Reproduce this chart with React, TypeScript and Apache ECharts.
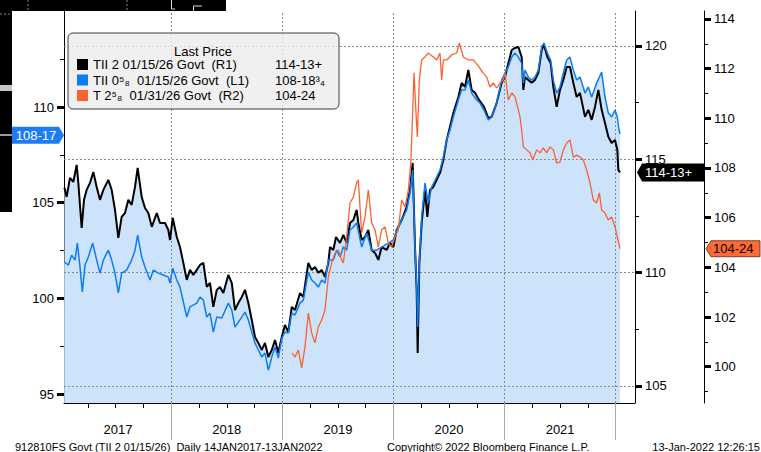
import React, { useEffect, useRef } from "react";
import * as echarts from "echarts";

// ---------- axis extents (fractional years / prices) ----------
const X_MIN = 2017.035;
const X_MAX = 2022.174;
const L1_MIN = 94.53, L1_MAX = 115.02;
const R1_MIN = 104.25, R1_MAX = 121.54;
const R2_MIN = 98.54, R2_MAX = 114.32;

// ---------- ticks & labels ----------
const yearBoundaries = [2018, 2019, 2020, 2021, 2022];
const yearLabelPositions = [2017.52, 2018.5, 2019.5, 2020.5, 2021.5];
const l1Ticks = [95, 100, 105, 110];
const l1Minor = [97.5, 102.5, 107.5, 112.5];
const r1Ticks = [105, 110, 115, 120];
const r1Minor = [107.5, 112.5, 117.5];
const r2Ticks = [100, 102, 104, 106, 108, 110, 112, 114];
const r2Minor = [99, 101, 103, 105, 107, 109, 111, 113];

// ---------- series names and last prices ----------
const seriesNames = [
  "TII 2 01/15/26 Govt  (R1)",
  "TII 0\u2075\u2088  01/15/26 Govt  (L1)",
  "T 2\u2075\u2088  01/31/26 Govt  (R2)",
];
const lastPrices = ["114-13+", "108-18\u00B3\u2084", "104-24"];
const tagTexts = ["114-13+", "108-17", "104-24"];
const tagValues = [114.42, 108.53, 104.75];

// ---------- data: [fractional year, price] ----------
const tii2Data = [
  [2017.039,113.74],[2017.059,113.34],[2017.089,114.18],[2017.119,114.0],[2017.149,114.75],[2017.164,113.96],[2017.194,111.97],[2017.215,113.21],[2017.239,113.65],[2017.269,113.96],[2017.299,114.44],[2017.329,113.78],[2017.359,113.21],[2017.389,113.65],[2017.434,114.09],[2017.464,113.65],[2017.494,112.77],[2017.524,111.53],[2017.554,112.46],[2017.584,112.63],[2017.614,113.21],[2017.644,112.99],[2017.674,113.78],[2017.698,114.62],[2017.734,113.34],[2017.764,112.85],[2017.794,112.63],[2017.825,112.02],[2017.87,112.63],[2017.899,112.19],[2017.944,112.19],[2017.974,111.88],[2017.989,111.44],
  [2018.014,112.41],[2018.05,111.57],[2018.079,111.13],[2018.109,110.43],[2018.14,109.68],[2018.169,110.12],[2018.199,109.9],[2018.23,110.12],[2018.259,110.34],[2018.289,110.43],[2018.32,109.37],[2018.349,109.55],[2018.379,108.49],[2018.41,109.24],[2018.439,109.37],[2018.469,109.1],[2018.514,109.9],[2018.545,109.55],[2018.574,108.35],[2018.604,108.66],[2018.635,108.93],[2018.664,109.24],[2018.694,108.66],[2018.725,107.91],[2018.754,107.16],[2018.784,106.9],[2018.815,106.59],[2018.844,106.9],[2018.874,106.28],[2018.905,106.59],[2018.934,107.03],[2018.964,106.46],[2018.995,107.16],
  [2019.024,107.69],[2019.054,107.38],[2019.085,108.49],[2019.114,108.35],[2019.159,109.1],[2019.189,108.93],[2019.234,110.43],[2019.264,110.12],[2019.294,110.25],[2019.324,109.99],[2019.354,110.12],[2019.384,109.81],[2019.414,110.43],[2019.429,111.13],[2019.459,111.0],[2019.483,111.57],[2019.519,111.31],[2019.549,111.66],[2019.579,111.31],[2019.609,112.19],[2019.639,112.32],[2019.669,112.77],[2019.684,112.19],[2019.714,111.44],[2019.744,111.57],[2019.774,111.88],[2019.804,111.0],[2019.834,110.87],[2019.864,110.56],[2019.894,111.13],[2019.939,111.0],[2019.969,111.31],[2019.999,111.13],
  [2020.029,111.88],[2020.074,112.32],[2020.119,112.9],[2020.149,113.65],[2020.173,114.84],[2020.194,111.13],[2020.209,109.24],[2020.218,106.46],[2020.233,110.43],[2020.254,112.19],[2020.284,113.65],[2020.305,112.46],[2020.329,113.65],[2020.359,113.78],[2020.389,114.09],[2020.419,114.4],[2020.449,114.97],[2020.479,115.85],[2020.509,116.43],[2020.539,117.04],[2020.584,117.75],[2020.614,118.37],[2020.644,118.19],[2020.674,118.94],[2020.704,118.06],[2020.734,117.93],[2020.77,117.62],[2020.815,117.31],[2020.854,116.82],[2020.884,116.87],[2020.929,117.49],[2020.974,118.37],
  [2021.004,118.63],[2021.034,119.25],[2021.065,119.82],[2021.094,119.91],[2021.124,119.96],[2021.154,119.51],[2021.169,118.06],[2021.184,118.63],[2021.214,118.5],[2021.244,118.37],[2021.274,118.5],[2021.304,118.81],[2021.334,119.82],[2021.355,120.04],[2021.385,119.51],[2021.415,119.25],[2021.439,118.19],[2021.469,117.31],[2021.499,118.06],[2021.529,118.5],[2021.559,119.07],[2021.589,119.07],[2021.619,118.37],[2021.649,117.75],[2021.679,117.93],[2021.724,116.87],[2021.754,117.18],[2021.784,116.74],[2021.814,117.31],[2021.844,118.06],[2021.874,117.18],[2021.904,116.6],[2021.934,115.99],[2021.964,115.72],[2021.994,115.85],[2022.015,115.41],[2022.024,114.53],[2022.039,114.42],
];

const tii058Data = [
  [2017.039,101.9],[2017.074,101.74],[2017.104,102.26],[2017.134,102.0],[2017.155,102.89],[2017.179,101.64],[2017.2,100.33],[2017.224,101.74],[2017.254,102.16],[2017.293,102.89],[2017.329,102.0],[2017.359,101.32],[2017.389,102.0],[2017.434,102.52],[2017.464,102.0],[2017.494,101.32],[2017.524,100.28],[2017.554,101.32],[2017.599,101.48],[2017.644,102.0],[2017.674,102.52],[2017.698,103.31],[2017.734,102.16],[2017.764,101.64],[2017.809,100.96],[2017.839,101.48],[2017.884,101.32],[2017.929,101.22],[2017.974,101.11],[2017.989,100.8],
  [2018.014,101.58],[2018.05,100.96],[2018.079,100.59],[2018.109,99.81],[2018.14,99.02],[2018.169,99.55],[2018.23,99.75],[2018.259,100.07],[2018.289,99.91],[2018.32,99.02],[2018.349,99.23],[2018.379,98.24],[2018.41,99.02],[2018.455,98.97],[2018.514,99.75],[2018.545,99.39],[2018.574,98.5],[2018.635,99.02],[2018.664,99.28],[2018.694,98.87],[2018.725,98.24],[2018.754,97.66],[2018.784,97.3],[2018.815,96.93],[2018.844,97.14],[2018.874,96.25],[2018.905,96.93],[2018.934,97.45],[2018.964,96.88],[2018.995,97.92],
  [2019.024,98.24],[2019.054,98.19],[2019.085,99.23],[2019.114,99.13],[2019.159,99.75],[2019.189,99.91],[2019.234,101.37],[2019.264,100.96],[2019.294,100.8],[2019.324,100.59],[2019.354,100.96],[2019.384,100.8],[2019.414,102.0],[2019.459,102.0],[2019.489,102.52],[2019.519,102.16],[2019.549,102.68],[2019.579,102.52],[2019.609,103.57],[2019.639,103.73],[2019.669,103.94],[2019.714,102.68],[2019.759,103.41],[2019.804,102.52],[2019.849,102.52],[2019.894,102.68],[2019.954,102.89],[2019.999,103.05],
  [2020.029,103.57],[2020.074,104.09],[2020.119,104.62],[2020.149,105.5],[2020.173,106.71],[2020.194,102.68],[2020.209,100.59],[2020.218,98.5],[2020.233,101.85],[2020.254,104.25],[2020.284,106.03],[2020.314,104.98],[2020.344,105.82],[2020.389,106.34],[2020.419,106.71],[2020.449,107.39],[2020.479,108.28],[2020.509,108.8],[2020.539,109.48],[2020.584,110.37],[2020.614,110.89],[2020.644,110.89],[2020.674,111.41],[2020.704,110.73],[2020.749,110.37],[2020.779,110.21],[2020.815,109.84],[2020.854,109.32],[2020.884,109.48],[2020.929,110.21],[2020.974,111.41],
  [2021.004,111.78],[2021.034,112.09],[2021.065,112.61],[2021.094,112.82],[2021.124,112.61],[2021.154,112.3],[2021.169,111.25],[2021.184,111.93],[2021.214,111.57],[2021.244,111.41],[2021.274,111.57],[2021.304,111.93],[2021.334,113.14],[2021.355,113.35],[2021.385,112.82],[2021.415,112.46],[2021.439,111.41],[2021.469,110.73],[2021.499,111.05],[2021.529,111.78],[2021.559,112.46],[2021.589,112.61],[2021.619,111.93],[2021.649,111.41],[2021.679,111.57],[2021.724,110.73],[2021.754,111.05],[2021.784,110.52],[2021.829,111.25],[2021.874,111.83],[2021.904,110.52],[2021.934,109.69],[2021.964,109.48],[2021.994,109.84],[2022.015,109.48],[2022.03,108.8],[2022.039,108.59],
];

const t258Data = [
  [2019.088,100.55],[2019.114,100.39],[2019.144,100.67],[2019.174,99.95],[2019.204,100.8],[2019.234,102.16],[2019.264,101.36],[2019.294,100.96],[2019.324,101.6],[2019.354,101.88],[2019.384,102.29],[2019.414,103.61],[2019.444,104.18],[2019.474,104.58],[2019.504,104.7],[2019.534,104.3],[2019.549,104.18],[2019.579,105.22],[2019.609,106.59],[2019.639,106.83],[2019.669,107.4],[2019.684,107.52],[2019.714,105.39],[2019.744,106.03],[2019.774,107.12],[2019.804,105.79],[2019.834,105.51],[2019.864,104.82],[2019.894,105.51],[2019.924,105.63],[2019.954,104.98],[2019.984,104.82],
  [2020.014,105.22],[2020.044,105.51],[2020.074,106.71],[2020.104,106.43],[2020.134,107.12],[2020.156,108.2],[2020.173,110.22],[2020.185,111.83],[2020.2,110.46],[2020.215,109.25],[2020.233,111.54],[2020.254,112.35],[2020.284,112.47],[2020.314,112.63],[2020.359,112.47],[2020.389,112.35],[2020.419,112.63],[2020.434,111.54],[2020.449,112.35],[2020.479,112.35],[2020.524,112.55],[2020.569,112.63],[2020.593,113.03],[2020.629,112.47],[2020.674,112.35],[2020.719,112.35],[2020.77,112.07],[2020.806,111.83],[2020.839,111.67],[2020.869,111.26],[2020.899,111.42],[2020.929,111.22],[2020.959,111.42],[2020.989,111.54],
  [2021.004,111.83],[2021.034,110.74],[2021.065,111.02],[2021.094,110.86],[2021.124,110.34],[2021.139,110.05],[2021.154,109.53],[2021.169,108.85],[2021.199,108.73],[2021.229,108.61],[2021.254,108.32],[2021.289,108.73],[2021.319,108.61],[2021.349,108.81],[2021.379,108.61],[2021.409,108.85],[2021.439,108.73],[2021.469,108.2],[2021.499,108.24],[2021.529,108.73],[2021.559,109.01],[2021.589,109.13],[2021.619,108.44],[2021.649,108.52],[2021.679,108.44],[2021.709,108.32],[2021.739,107.92],[2021.769,107.4],[2021.799,106.71],[2021.829,106.59],[2021.853,107.0],[2021.874,106.31],[2021.904,106.19],[2021.934,105.91],[2021.964,106.03],[2021.994,105.63],[2022.015,105.22],[2022.039,104.75],
];

// ---------- styles ----------
const FONT = "'Liberation Sans', Arial, sans-serif";
const FILL = "#cce3fb";
const BLACK = "#000000";
const BLUE = "#0b7cf3";
const ORANGE = "#fa6232";
const gridLineStyle = { color: "#8a8a8a", width: 1, type: [2, 2] };

const quarterTicks: number[] = [];
for (let y = 2017; y <= 2021; y++) {
  [0.25, 0.5, 0.75].forEach((q) => {
    if (y + q > X_MIN) quarterTicks.push(y + q);
  });
}

const labelStyle = { color: "#000", fontSize: 13, fontFamily: FONT };

function yAxisMajor(min: number, max: number, position: string, offset: number, ticks: number[]) {
  return {
    type: "value", min, max, position, offset,
    axisLine: { show: true, lineStyle: { color: "#000", width: 1 } },
    axisTick: { show: true, customValues: ticks, length: 7, lineStyle: { color: "#000", width: 3 } },
    axisLabel: { show: true, customValues: ticks, margin: 10, ...labelStyle },
    splitLine: { show: false },
  };
}
function yAxisMinor(min: number, max: number, position: string, offset: number, ticks: number[]) {
  return {
    type: "value", min, max, position, offset,
    axisLine: { show: false },
    axisTick: { show: true, customValues: ticks, length: 4, lineStyle: { color: "#000", width: 1 } },
    axisLabel: { show: false },
    splitLine: { show: false },
  };
}

const lastMap: Record<string, string> = {};
seriesNames.forEach((n, i) => (lastMap[n] = lastPrices[i]));

const option: any = {
  animation: false,
  backgroundColor: "#ffffff",
  grid: { left: 64, right: 126, top: 11, bottom: 49, containLabel: false },
  xAxis: [
    {
      type: "value", min: X_MIN, max: X_MAX, position: "bottom",
      axisLine: { show: true, lineStyle: { color: "#000", width: 1 } },
      axisTick: { show: true, customValues: yearBoundaries, length: 37, lineStyle: { color: "#a8a8a8", width: 1 } },
      axisLabel: { show: false },
      splitLine: { show: false },
    },
    {
      type: "value", min: X_MIN, max: X_MAX, position: "bottom",
      axisLine: { show: false },
      axisTick: { show: true, customValues: quarterTicks, length: 5, lineStyle: { color: "#000", width: 1 } },
      axisLabel: { show: false },
      splitLine: { show: false },
    },
    {
      type: "value", min: X_MIN, max: X_MAX, position: "bottom",
      axisLine: { show: false },
      axisTick: { show: false },
      axisLabel: {
        show: true, customValues: yearLabelPositions, margin: 20,
        formatter: (v: number) => String(Math.floor(v)), ...labelStyle,
      },
      splitLine: { show: false },
    },
  ],
  yAxis: [
    yAxisMajor(L1_MIN, L1_MAX, "left", 0, l1Ticks),
    yAxisMajor(R1_MIN, R1_MAX, "right", 0, r1Ticks),
    yAxisMajor(R2_MIN, R2_MAX, "right", 69, r2Ticks),
    yAxisMinor(L1_MIN, L1_MAX, "left", 0, l1Minor),
    yAxisMinor(R1_MIN, R1_MAX, "right", 0, r1Minor),
    yAxisMinor(R2_MIN, R2_MAX, "right", 69, r2Minor),
  ],
  legend: {
    orient: "vertical", left: 68, top: 33,
    padding: [25, 9, 7, 9],
    itemGap: 2.5, itemWidth: 11, itemHeight: 11,
    backgroundColor: "rgba(236,236,236,0.8)",
    borderColor: "#3c3c3c", borderWidth: 1, borderRadius: 5,
    selectedMode: false,
    data: seriesNames.map((n) => ({ name: n, icon: "rect" })),
    formatter: (name: string) => `{n|${name}}{v|${lastMap[name]}}`,
    textStyle: {
      rich: {
        n: { width: 182, fontSize: 13, lineHeight: 14, fontFamily: FONT, color: "#000" },
        v: { width: 55, fontSize: 13, lineHeight: 14, fontFamily: FONT, color: "#000" },
      },
    },
  },
  series: [
    {
      name: "fill-r1", type: "line", xAxisIndex: 0, yAxisIndex: 1, data: tii2Data,
      symbol: "none", silent: true, z: 1,
      lineStyle: { width: 0, opacity: 0 },
      areaStyle: { color: FILL, opacity: 1, origin: "start" },
      markLine: {
        silent: true, symbol: ["none", "none"], z: 2,
        label: { show: false },
        lineStyle: gridLineStyle,
        emphasis: { disabled: true },
        data: [
          ...yearBoundaries.map((v) => ({ xAxis: v })),
          ...r1Ticks.map((v) => ({ yAxis: v })),
        ],
      },
    },
    {
      name: "fill-l1", type: "line", xAxisIndex: 0, yAxisIndex: 0, data: tii058Data,
      symbol: "none", silent: true, z: 1,
      lineStyle: { width: 0, opacity: 0 },
      areaStyle: { color: FILL, opacity: 1, origin: "start" },
    },
    {
      name: seriesNames[0], type: "line", xAxisIndex: 0, yAxisIndex: 1, data: tii2Data,
      symbol: "none", color: BLACK, z: 4,
      lineStyle: { width: 2, color: BLACK },
    },
    {
      name: seriesNames[1], type: "line", xAxisIndex: 0, yAxisIndex: 0, data: tii058Data,
      symbol: "none", color: BLUE, z: 5,
      lineStyle: { width: 1.5, color: BLUE },
    },
    {
      name: seriesNames[2], type: "line", xAxisIndex: 0, yAxisIndex: 2, data: t258Data,
      symbol: "none", color: ORANGE, z: 6,
      lineStyle: { width: 1.3, color: ORANGE },
    },
  ],
};

function tagText(text: string, x: number, y: number, color: string, align: string) {
  return {
    type: "text", z: 101,
    style: { text, x, y, fill: color, font: `13px ${FONT}`, align, verticalAlign: "middle" },
  };
}

export default function App() {
  const ref = useRef<HTMLDivElement>(null);
  useEffect(() => {
    const el = ref.current;
    if (!el) return;
    const chart = echarts.init(el, null, { renderer: "svg" });
    chart.setOption(option);

    const xL = chart.convertToPixel({ xAxisIndex: 0 }, X_MIN) as number;
    const xR = chart.convertToPixel({ xAxisIndex: 0 }, X_MAX) as number;
    const xR2 = xR + 69;
    const yBlack = chart.convertToPixel({ yAxisIndex: 1 }, tagValues[0]) as number;
    const yBlue = chart.convertToPixel({ yAxisIndex: 0 }, tagValues[1]) as number;
    const yOrange = chart.convertToPixel({ yAxisIndex: 2 }, tagValues[2]) as number;

    const graphic: any[] = [
      // dark screen fragment at the top-left corner
      { type: "rect", z: 100, shape: { x: 0, y: 0, width: 226, height: 11 }, style: { fill: "#000" } },
      { type: "rect", z: 100, shape: { x: 0, y: 0, width: 12, height: 212 }, style: { fill: "#000" } },
      { type: "rect", z: 101, shape: { x: 0, y: 85, width: 12, height: 6 }, style: { fill: "#c4c4c4" } },
      { type: "line", z: 101, shape: { x1: 0, y1: 135, x2: 12, y2: 135 }, style: { stroke: "#cfcfcf", lineWidth: 1.5 } },
      { type: "line", z: 101, shape: { x1: 0, y1: 14, x2: 12, y2: 14 }, style: { stroke: "#888", lineWidth: 1, lineDash: [2, 2] } },
      { type: "line", z: 101, shape: { x1: 28, y1: 0, x2: 28, y2: 10 }, style: { stroke: "#888", lineWidth: 1, lineDash: [2, 2] } },
      { type: "line", z: 101, shape: { x1: 127, y1: 0, x2: 127, y2: 10 }, style: { stroke: "#888", lineWidth: 1, lineDash: [2, 2] } },
      { type: "polyline", z: 101, shape: { points: [[171.5, 0], [171.5, 9], [175, 9]] }, style: { stroke: "#ddd", lineWidth: 1, fill: "none" } },
      { type: "polyline", z: 101, shape: { points: [[193.5, 11], [193.5, 6], [202, 6]] }, style: { stroke: "#ddd", lineWidth: 1, fill: "none" } },
      // legend title
      { type: "text", z: 101, style: { text: "Last Price", x: 203, y: 51, fill: "#000", font: `13px ${FONT}`, align: "center", verticalAlign: "middle" } },
      // left (L1) tag
      {
        type: "polygon", z: 100,
        shape: { points: [[12, yBlue - 8.5], [xL - 5, yBlue - 8.5], [xL, yBlue], [xL - 5, yBlue + 8.5], [12, yBlue + 8.5]] },
        style: { fill: "#1a7ef2" },
      },
      tagText(tagTexts[1], 36, yBlue, "#fff", "center"),
      // R1 tag
      {
        type: "polygon", z: 100,
        shape: { points: [[xR + 2, yBlack], [xR + 7, yBlack - 9], [xR2, yBlack - 9], [xR2, yBlack + 9], [xR + 7, yBlack + 9]] },
        style: { fill: "#000" },
      },
      tagText(tagTexts[0], xR + 10, yBlack, "#fff", "left"),
      // R2 tag
      {
        type: "polygon", z: 100,
        shape: { points: [[xR2 + 2, yOrange], [xR2 + 7, yOrange - 8], [760, yOrange - 8], [760, yOrange + 8], [xR2 + 7, yOrange + 8]] },
        style: { fill: "#ff6a35", stroke: "#5a2a10", lineWidth: 0.8 },
      },
      tagText(tagTexts[2], xR2 + 9, yOrange, "#000", "left"),
      // footer
      { type: "text", z: 101, style: { text: "912810FS Govt (TII 2 01/15/26)  Daily 14JAN2017-13JAN2022", x: 15, y: 447, fill: "#000", font: `11px ${FONT}`, verticalAlign: "middle" } },
      { type: "text", z: 101, style: { text: "Copyright\u00A9 2022 Bloomberg Finance L.P.", x: 387, y: 447, fill: "#000", font: `11px ${FONT}`, verticalAlign: "middle" } },
      { type: "text", z: 101, style: { text: "13-Jan-2022 12:26:15", x: 760, y: 447, fill: "#000", font: `11px ${FONT}`, align: "right", verticalAlign: "middle" } },
    ];
    chart.setOption({ graphic });

    return () => chart.dispose();
  }, []);
  return <div ref={ref} style={{ position: "fixed", left: 0, top: 0, width: 761, height: 452 }} />;
}
